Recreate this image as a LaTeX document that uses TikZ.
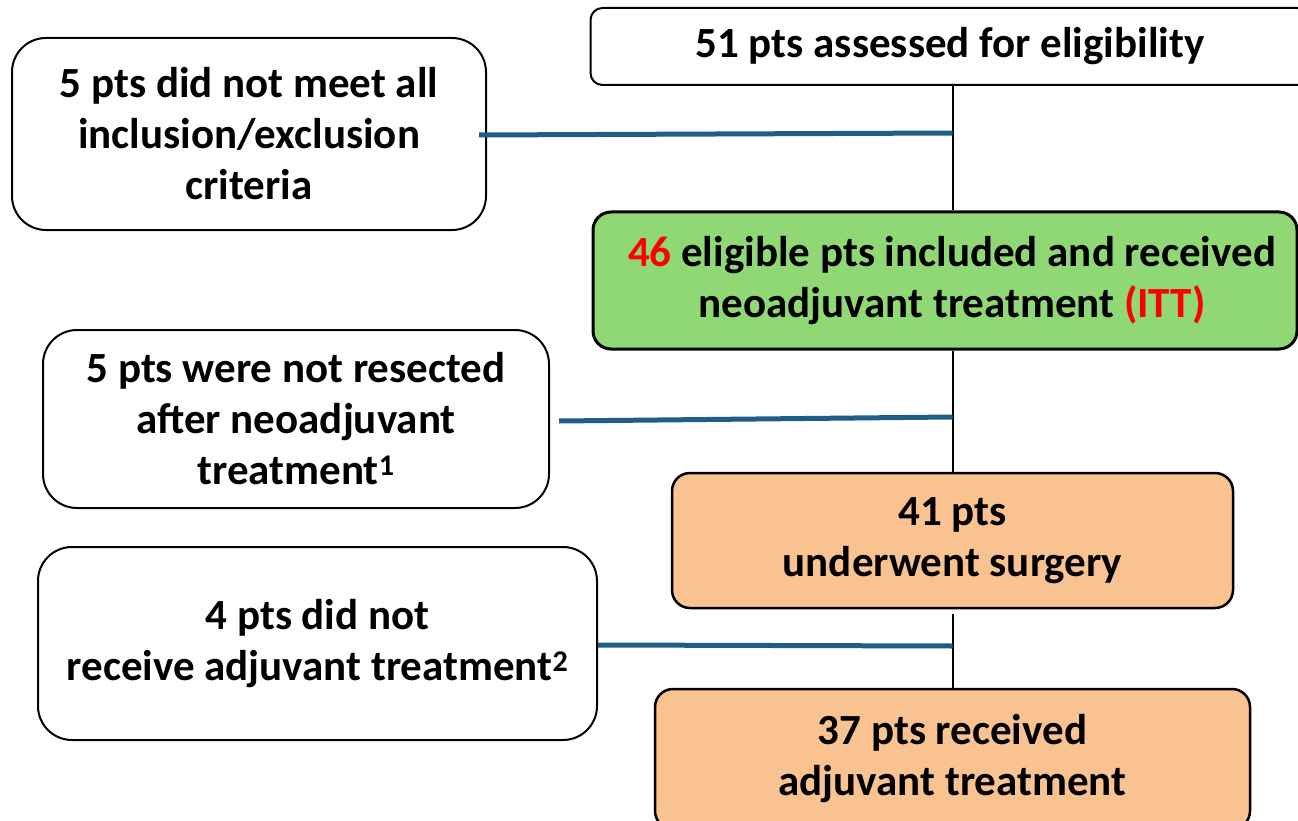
\documentclass[tikz,border=0pt]{standalone}
\usepackage{fontspec}
\setmainfont{Carlito}
\usetikzlibrary{positioning,calc}

\definecolor{itt green}{RGB}{144,216,118}
\definecolor{surg orange}{RGB}{248,194,145}
\definecolor{excl blue}{RGB}{30,94,132}

\begin{document}
\begin{tikzpicture}[%
    x=1pt,
    y=-1pt,
    base/.style={draw, align=center, line width=2pt, font={\fontsize{43}{51}\selectfont\bfseries}, inner sep=0pt},
    excl/.style={base, rounded corners=34pt, fill=white},
    proc/.style={base, rounded corners=18pt},
    spine/.style={line width=2pt},
    drop/.style={line width=5pt, draw=excl blue}
    ]

    \clip (0,0) rectangle (1298,821);

    % main column
    \node at (950,46.5) [proc, rounded corners=12pt, minimum width=719pt, minimum height=77pt] (assess) {51 pts assessed for eligibility};
    \node at (945,280.5) [proc, fill=itt green, line width=3pt, minimum width=704pt, minimum height=137pt] (itt) {\hspace*{14pt}\textcolor{red}{46} eligible pts included and received\\\hspace*{14pt}neoadjuvant treatment \textcolor{red}{(ITT)}};
    \node at (952.5,540.5) [proc, fill=surg orange, line width=2.5pt, minimum width=561pt, minimum height=135pt] (surg) {41 pts\\underwent surgery};
    \node at (952.5,759) [proc, fill=surg orange, line width=2.5pt, minimum width=595pt, minimum height=140pt] (adj) {37 pts received\\adjuvant treatment};

    % excluded patients
    \node at (249,134) [excl, minimum width=474pt, minimum height=192pt] (crit) {5 pts did not meet all\\inclusion/exclusion\\criteria};
    \node at (296,419) [excl, minimum width=506pt, minimum height=178pt] (noresect) {5 pts were not resected\\after neoadjuvant\\treatment\textsuperscript{1}};
    \node at (317.5,643.5) [excl, minimum width=559pt, minimum height=193pt] (noadj) {4 pts did not\\receive adjuvant treatment\textsuperscript{2}};

    \coordinate (s1) at ($(crit.east -| surg.center)+(0,-1)$);
    \coordinate (s2) at ($(noresect.east -| surg.center)+(0,-2)$);
    \coordinate (s3) at ($(noadj.east -| surg.center)+(0,2.5)$);

    \draw[spine] (assess.south -| surg.center) -- (itt.north -| surg.center);
    \draw[spine] (itt.south -| surg.center) -- (surg.north);
    \draw[spine] ($(surg.south)+(0,5)$) -- (adj.north);

    \draw[drop] ([xshift=-8pt, yshift=-1pt] crit.east) -- (s1);
    \draw[drop] ([xshift=9pt, yshift=-2pt] noresect.east) -- (s2);
    \draw[drop] ([yshift=-1.5pt] noadj.east) -- (s3);

\end{tikzpicture}
\end{document}
